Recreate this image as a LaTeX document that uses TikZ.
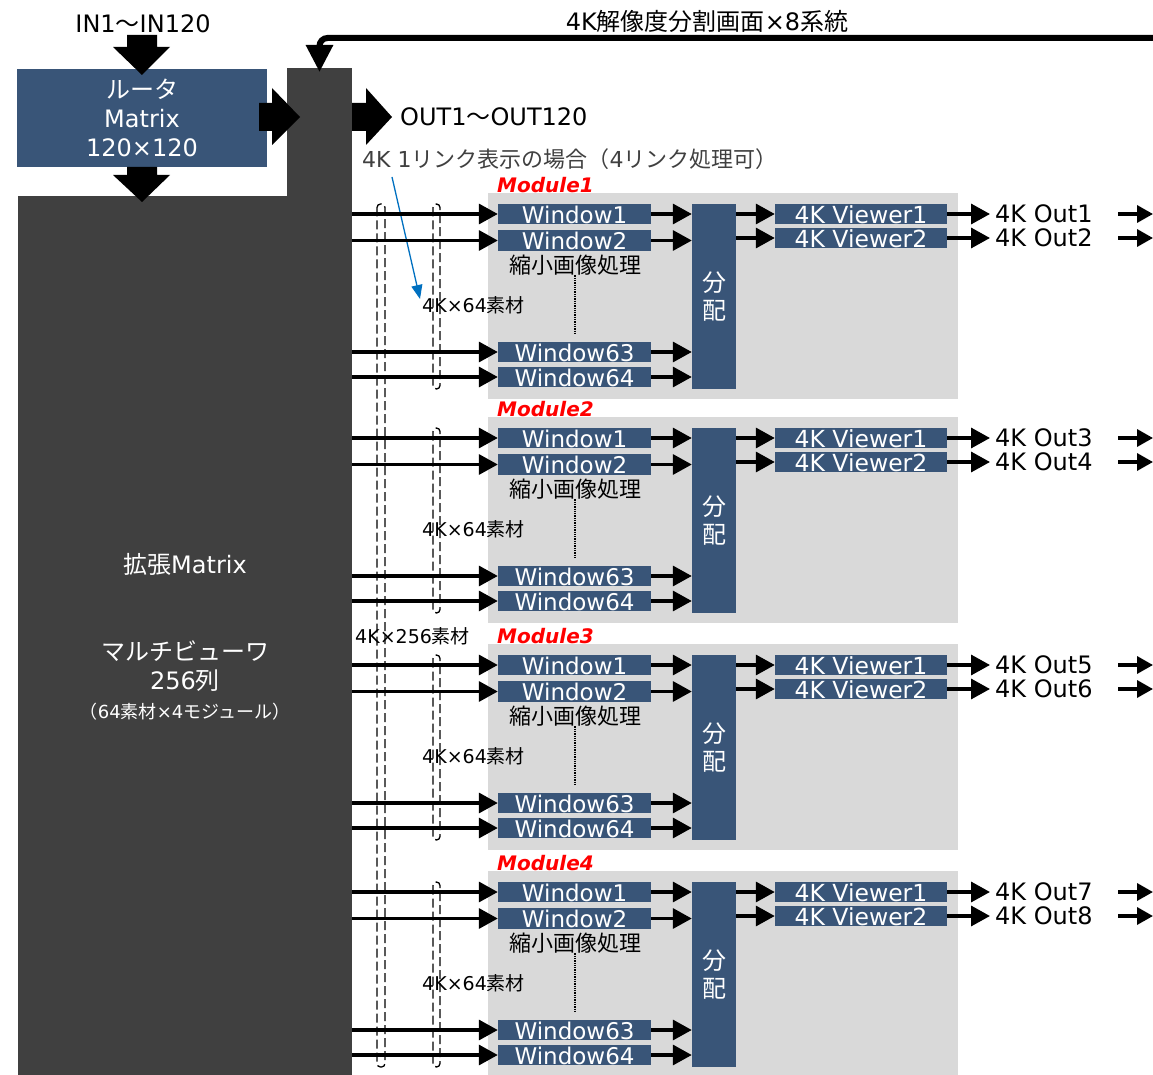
\documentclass[tikz,border=0pt]{standalone}
\usepackage{fontspec}
\setmainfont{DejaVu Sans}
\newfontfamily\jp{Noto Sans CJK JP}
\usetikzlibrary{arrows.meta}
\definecolor{boxblue}{HTML}{395578}
\definecolor{darkblock}{HTML}{404040}
\definecolor{modgray}{HTML}{D9D9D9}
\definecolor{linkblue}{HTML}{0070C0}
\definecolor{txtgray}{HTML}{404040}
\newcommand{\fsz}[1]{\fontsize{#1}{#1}\selectfont}
\begin{document}
\begin{tikzpicture}[x=1pt,y=-1pt,
  bluebox/.style={fill=boxblue, text=white, inner sep=0pt, text height=19.5pt, text depth=1pt, font=\fsz{23}},
  win/.style={bluebox, minimum width=153pt},
  viewer/.style={bluebox, minimum width=172pt, font=\fsz{23.5}},
  thinarr/.style={line width=3.4pt, -{Triangle[length=19pt,width=20pt]}},
  smallarr/.style={line width=3.4pt, -{Triangle[length=16pt,width=17pt]}},
  lbl/.style={inner sep=0pt, font=\fsz{23}},
  modlbl/.style={inner sep=0pt, anchor=west, text=red, font=\fsz{20}\bfseries\itshape},
  bundle/.style={dashed, dash pattern=on 9pt off 4pt, line width=1.3pt, rounded corners=3.5pt},
  fatarrow/.style={fill=black}
]
\useasboundingbox (0,0) rectangle (1153,1075);

% dark blocks
\node[fill=darkblock, inner sep=0, minimum width=334pt, minimum height=879pt, anchor=north west] (ext) at (18,196) {};
\node[fill=darkblock, inner sep=0, minimum width=65pt, minimum height=1007pt, anchor=north west] (col) at (287,68) {};

% router
\node[fill=boxblue, inner sep=0, minimum width=250pt, minimum height=98pt, text=white, align=center,
      font=\fontsize{24}{29}\selectfont] (router) at (142,118) {{\jp ルータ}\\Matrix\\120×120};

% input label
\node[lbl, font=\fsz{24}] (inlbl) at (143,24) {IN1{\jp ～}IN120};

% fat arrows
\fill[fatarrow] (127,35) -- (157,35) -- (157,47) -- (170,47) -- (142,75) -- (113,47) -- (127,47) -- cycle;
\fill[fatarrow] (127,167) -- (157,167) -- (157,175) -- (170,175) -- (142,202) -- (113,175) -- (127,175) -- cycle;
\fill[fatarrow] (259,103) -- (272,103) -- (272,88) -- (300,117) -- (272,145) -- (272,131) -- (259,131) -- cycle;
\fill[fatarrow] (352,103) -- (366,103) -- (366,88) -- (392,117) -- (366,145) -- (366,131) -- (352,131) -- cycle;

% output label
\node[lbl, anchor=west, font=\fsz{24}] (outlbl) at (400,117) {OUT1{\jp ～}OUT120};

% top feedback line
\node[lbl, font=\fsz{24}] (toplbl) at (707,21) {4K{\jp 解像度分割画面}×8{\jp 系統}};
\coordinate (topstart) at (1153,38);
\coordinate (topend) at (319.5,72);
\draw[line width=6pt, rounded corners=8pt, -{Triangle[length=27pt,width=26pt]}] (topstart) -- (topend |- topstart) -- (topend);

% link note
\node[lbl, anchor=west, text=txtgray, font=\fsz{22}] (link) at (362,159) {4K 1{\jp リンク表示の場合（}4{\jp リンク処理可）}};
\coordinate (bs) at (392,177);
\coordinate (be) at (420,299);
\draw[linkblue, line width=1.3pt, -{Triangle[length=14pt,width=11pt]}] (bs) -- (be);

% left block texts
\node[lbl, text=white, font=\fsz{24}] (t1) at (185,564) {{\jp 拡張}Matrix};
\node[lbl, text=white, font=\jp\fsz{24}] (t2) at (185,651) {マルチビューワ};
\node[lbl, text=white, font=\fsz{24}] (t3) at (185,681) {256{\jp 列}};
\node[lbl, text=white, font=\fsz{18}] (t4) at (185,712) {{\jp （}64{\jp 素材}×4{\jp モジュール）}};

\node[lbl, anchor=west, font=\fsz{19}] (m256) at (355,636) {4K×256{\jp 素材}};

% outer bundle
\draw[bundle] (377,204) rectangle (385,1067);

\foreach \mk/\off/\pa/\pb in {1/0/1/2, 2/224/3/4, 3/451/5/6, 4/678/7/8} {
  \node[fill=modgray, inner sep=0, minimum width=470pt, minimum height=206pt, anchor=north west] (mod\mk) at (488,193+\off) {};
  \node[modlbl] (ml\mk) at (497,185+\off) {Module\mk};
  \node[win] (wa-\mk) at (574.5,214+\off) {Window1};
  \node[win] (wb-\mk) at (574.5,240.5+\off) {Window2};
  \node[win] (wc-\mk) at (574.5,352+\off) {Window63};
  \node[win] (wd-\mk) at (574.5,377+\off) {Window64};
  \node[lbl, font=\jp\fsz{22}] (sh-\mk) at (575,265+\off) {縮小画像処理};
  \coordinate (dt-\mk) at (575,335+\off);
  \draw[densely dotted, line width=1.3pt] (sh-\mk.south) -- (dt-\mk);
  \node[lbl, anchor=west, font=\fsz{19}] (mat-\mk) at (422,305+\off) {4K×64{\jp 素材}};
  \node[fill=boxblue, inner sep=0, minimum width=44pt, minimum height=185pt, text=white, align=center,
        font=\jp\fontsize{24}{28}\selectfont] (dist-\mk) at (714,296.5+\off) {分\\配};
  \node[viewer] (va-\mk) at (861,214+\off) {4K Viewer1};
  \node[viewer] (vb-\mk) at (861,238+\off) {4K Viewer2};
  \node[lbl, anchor=west, inner xsep=5pt, font=\fsz{24}] (oa-\mk) at (990,214+\off) {4K Out\pa};
  \node[lbl, anchor=west, inner xsep=5pt, font=\fsz{24}] (ob-\mk) at (990,238+\off) {4K Out\pb};
  \draw[bundle] (433,204+\off) rectangle (440,389+\off);
  \foreach \w in {wa,wb,wc,wd} {
    \draw[thinarr] (col.east |- \w-\mk.west) -- (\w-\mk.west);
    \draw[thinarr] (\w-\mk.east) -- (dist-\mk.west |- \w-\mk.east);
  }
  \foreach \v/\o in {va/oa,vb/ob} {
    \draw[thinarr] (dist-\mk.east |- \v-\mk.west) -- (\v-\mk.west);
    \draw[thinarr] (\v-\mk.east) -- (\o-\mk.west);
    \coordinate (\o s-\mk) at (1118,0 |- \v-\mk.west);
    \coordinate (\o e-\mk) at (1153,0 |- \v-\mk.west);
    \draw[smallarr] (\o s-\mk) -- (\o e-\mk);
  }
}
\end{tikzpicture}
\end{document}
